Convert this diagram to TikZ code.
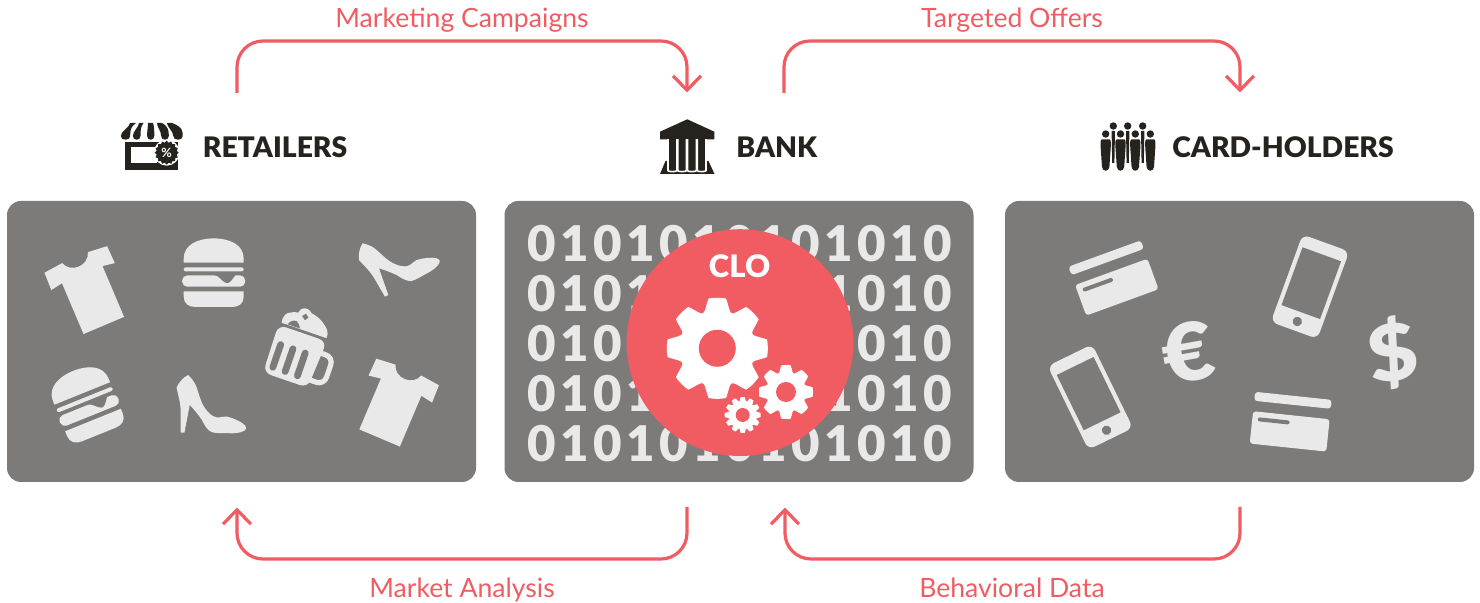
\documentclass[tikz,border=0pt]{standalone}
\usepackage{fontspec}
\setmainfont{Lato}
\newfontfamily\blackfont{Lato Black}
\newfontfamily\bitfont[Numbers=Monospaced,LetterSpace=9]{Lato Black}
\usepackage{tikz}
\usetikzlibrary{arrows.meta,shapes.geometric}

\definecolor{panelgray}{HTML}{7C7B79}
\definecolor{iconlight}{HTML}{E9E9E9}
\definecolor{inkdark}{HTML}{26231F}
\definecolor{clored}{HTML}{F15C63}

\newcommand{\gearwheel}[6]{%
	\begin{scope}[shift={(#1,#2)}]
		\fill[white] plot[domain=0:360,samples=289] (\x:{#4+(#3-#4)*min(1,1.7*(0.5+0.5*cos(#6*\x)))}) -- cycle;
		\fill[clored] (0,0) circle (#5);
	\end{scope}
}

\tikzset{
	panel/.style={fill=panelgray,rounded corners=7pt,minimum width=234.5pt,minimum height=140.5pt,inner sep=0pt},
	flow/.style={draw=clored,line width=1.6pt,rounded corners=13pt,-{Straight Barb[length=7.2pt,width=14pt]}},
	flowlabel/.style={text=clored,font=\fontsize{13.3}{15}\selectfont,anchor=base},
	title/.style={text=inkdark,font=\blackfont\fontsize{14.15}{16}\selectfont,anchor=base west,inner sep=0pt},
	bits/.style={text=iconlight,font=\bitfont\fontsize{24.6}{28}\selectfont,inner sep=0pt,anchor=base},
	money/.style={text=iconlight,font=\blackfont\fontsize{40}{42}\selectfont,inner sep=0pt},
	pics/tshirt/.style={code={
		\fill[iconlight] (-22,40.7) -- (22,40.7) -- (22,-14.5) -- (34.5,-12.4) -- (34,-31) -- (14,-33)
			.. controls (10,-20) and (-10,-20) .. (-14,-33) -- (-34,-31) -- (-34.5,-12.4) -- (-22,-14.5) -- cycle;
	}},
	pics/burger/.style={code={
		\fill[iconlight] (-30,-10) -- (-30,-14) .. controls (-30,-28) and (-16,-34.3) .. (0,-34.3)
			.. controls (16,-34.3) and (30,-28) .. (30,-14) -- (30,-10) -- cycle;
		\fill[iconlight,rounded corners=1pt] (-30,-5.3) rectangle (30,-1.3);
		\fill[iconlight,rounded corners=2.5pt] (-31.5,2.7) rectangle (31.5,14);
		\fill[panelgray] (0,2) .. controls (6,2.8) and (9,10) .. (13,10.5) .. controls (16,11) and (19,6) .. (22,2) -- cycle;
		\fill[iconlight] (-30,18.7) -- (30,18.7) -- (30,24) .. controls (30,31) and (25,34.3) .. (18,34.3)
			-- (-18,34.3) .. controls (-25,34.3) and (-30,31) .. (-30,24) -- cycle;
	}},
	pics/heel/.style={code={
		\fill[iconlight] (-35.7,-26.7) .. controls (-28,-25) and (-24,-22) .. (-21.7,-20) .. controls (-14,-13) and (-10,-9) .. (-5,-6.7)
			.. controls (2,-3.5) and (6,-3) .. (10,-4.3) .. controls (14,-5.5) and (15,-9) .. (18.3,-10)
			.. controls (25,-12) and (33,-13) .. (38.3,-11.7) .. controls (42,-10.5) and (42,-8) .. (41,-6.7)
			.. controls (38,-2) and (34,0) .. (31.7,1.7) .. controls (25,5) and (18,10) .. (13.3,11)
			.. controls (8,11.5) and (3,8) .. (-1.7,5) .. controls (-8,2) and (-14,0) .. (-19.3,-1.7)
			-- (-10,25) -- (-13.3,26.7) -- (-25,6.7) .. controls (-30,-1) and (-36,-6) .. (-39.3,-10)
			.. controls (-40,-15) and (-39,-22) .. (-35.7,-26.7) -- cycle;
	}},
	pics/beermug/.style={code={
		\draw[iconlight,line width=2.6pt,rounded corners=4pt] (20,-8) -- (36,-8) -- (36,21) -- (19,21);
		\fill[iconlight,rounded corners=4pt] (-26.6,-21) -- (24.6,-21) -- (21.5,29) -- (-25.5,29) -- cycle;
		\fill[iconlight] (-24.1,-24) .. controls (-26,-31) and (-22,-36) .. (-19.6,-36.2)
			.. controls (-17,-38) and (-14,-39) .. (-11.7,-38.9) .. controls (-11,-43) and (-9,-45.3) .. (-6.8,-45.3)
			.. controls (-3,-46) and (0,-44) .. (1.2,-42.7) .. controls (6,-42) and (12,-40) .. (15.4,-37)
			.. controls (20,-34) and (24,-30) .. (23.3,-24) -- cycle;
		\fill[panelgray] (-18,-24.5) .. controls (-17,-28) and (-14,-30.5) .. (-10.5,-30.5) .. controls (-8,-29) and (-6,-27) .. (-5,-24.5) -- cycle;
		\fill[panelgray] (-7,-37) -- (-4,-40.5) -- (-0.5,-37.5) -- (-3,-34) -- cycle;
		\draw[panelgray,line width=0.8pt] (-22,-22.5) -- (18,-22.5);
		\draw[panelgray,line width=3.4pt,line cap=round] (-18,-3) -- (-18,21);
		\draw[panelgray,line width=3.4pt,line cap=round] (-5,-3) -- (-5,21);
		\draw[panelgray,line width=3.4pt,line cap=round] (8,-3) -- (8,21);
	}},
	pics/bankcard/.style={code={
		\fill[iconlight,rounded corners=1.5pt] (-38.5,-17) -- (-38.5,-26) -- (38.5,-26) -- (38.5,-17) -- cycle;
		\fill[iconlight,rounded corners=1.5pt] (-38.5,-6.5) -- (38.5,-6.5) -- (38.5,26) -- (-38.5,26) -- cycle;
		\draw[panelgray,line width=2pt,line cap=round] (-31,1) -- (-3,1);
	}},
	pics/phone/.style={code={
		\fill[iconlight,rounded corners=3.5pt] (-24.8,-46.5) rectangle (24.8,46.5);
		\fill[panelgray] (-20.5,-34.5) rectangle (20.5,27);
		\fill[panelgray] (0,37) circle (4.7);
	}},
}

\begin{document}
\begin{tikzpicture}[x=0.5pt,y=-0.5pt]
	\useasboundingbox (0,0) rectangle (1480,603);

	\node[panel] (retailpanel) at (241.5,341.5) {};
	\node[panel] (bankpanel) at (739,341.5) {};
	\node[panel] (cardpanel) at (1239.5,341.5) {};

	\pic[rotate=23] (shirtleft) at (87.9,288) {tshirt};
	\pic[rotate=-23] (shirtright) at (395.5,400.5) {tshirt};
	\pic (burgertop) at (213.7,272.7) {burger};
	\pic[rotate=22] (burgerlow) at (86,402.7) {burger};
	\pic (heeltop) at (398.3,270) {heel};
	\pic[rotate=-30] (heellow) at (205.6,416) {heel};
	\pic[rotate=-19] (mug) at (296.7,353.3) {beermug};

	\pic[rotate=20] (cardone) at (1113.5,278) {bankcard};
	\pic[rotate=-6] (cardtwo) at (1290.7,421.7) {bankcard};
	\pic[rotate=-20] (phoneone) at (1310,286.7) {phone};
	\pic[rotate=26] (phonetwo) at (1090.3,397) {phone};
	\node[money,rotate=10,xscale=1.12] (euro) at (1188.5,352) {€};
	\node[money,rotate=9,xscale=1.1,font=\blackfont\fontsize{39}{42}\selectfont] (dollar) at (1393,353) {\$};

	\foreach \r/\rowy in {1/262,2/312,3/362,4/412,5/462}
		\node[bits] (bits\r) at (740,\rowy) {0101010101010};

	\node[circle,fill=clored,minimum size=113.4pt,inner sep=0pt] (clo) at (740,342.6) {};
	\gearwheel{717.3}{348.3}{50.5}{38}{18.5}{8}
	\gearwheel{786}{392}{27}{20}{10}{8}
	\gearwheel{742.7}{415}{18}{14}{7}{12}
	\node[text=white,font=\blackfont\fontsize{15.5}{17}\selectfont,inner sep=0pt,anchor=base] (clolabel) at (739.6,278) {CLO};

	\fill[inkdark] (125,142) rectangle (178,170);
	\fill[white] (130.7,146.7) rectangle (156.7,162.7);
	\foreach \xa/\xb/\xc/\rad in {130/136/125.5/4.7,139/143.5/136.7/3.8,148/153/150.7/3.6,157/162/165/3.8,167/172/178/4.7}
		\fill[inkdark] (\xa,123) -- (\xb,123) .. controls (\xc+\rad,127) and (\xc+\rad,131) .. (\xc+\rad,136)
			.. controls (\xc+\rad,141) and (\xc-\rad,141) .. (\xc-\rad,136) .. controls (\xc-\rad,131) and (\xa,127) .. cycle;
	\fill[white] (166.7,152.7) circle (13);
	\node[star,star points=16,star point ratio=1.18,fill=inkdark,minimum size=12pt,inner sep=0pt,text=white,font=\bfseries\fontsize{6.4}{7}\selectfont] (badge) at (166.7,152.7) {\%};
	\node[title] (retailers) at (202.5,157.5) {RETAILERS};

	\fill[inkdark] (687.3,119.3) -- (714.3,131.7) -- (714.3,139.3) -- (660,139.3) -- (660,131.7) -- cycle;
	\fill[inkdark] (665.5,161) -- (708.5,161) -- (714.5,174) -- (660,174) -- cycle;
	\foreach \cx in {672.4,682.1,691.9,701.6}
		\draw[white,fill=inkdark,line width=0.8pt,rounded corners=1.8pt] (\cx-4.4,138) -- (\cx-4.4,167) .. controls (\cx-4.4,172) and (\cx+4.4,172) .. (\cx+4.4,167) -- (\cx+4.4,138);
	\fill[inkdark] (660,131.7) rectangle (714.3,139.3);
	\node[title] (bank) at (736,157.5) {BANK};

	\foreach \hx in {1113.3,1127.7,1142.7} {
		\fill[inkdark] (\hx,126) circle (3.7);
		\fill[inkdark] (\hx-1.7,131) -- (\hx+1.7,131) -- (\hx+1.1,163) -- (\hx-1.1,163) -- cycle;
	}
	\foreach \hx in {1105.7,1120.5,1135.3,1150.3} {
		\fill[inkdark] (\hx,134) circle (3.7);
		\fill[inkdark] (\hx-4,139.5) -- (\hx+4,139.5) .. controls (\hx+5.3,140) and (\hx+5.3,143) .. (\hx+5,148)
			-- (\hx+3.7,167) .. controls (\hx+3,172) and (\hx-3,172) .. (\hx-3.7,167) -- (\hx-5,148) .. controls (\hx-5.3,143) and (\hx-5.3,140) .. (\hx-4,139.5) -- cycle;
	}
	\node[title] (holders) at (1172,157.5) {CARD-HOLDERS};

	\coordinate (mcfrom) at (237,93);
	\coordinate (mctop) at (462,41);
	\coordinate (mcto) at (687,92.5);
	\coordinate (tofrom) at (784,93);
	\coordinate (totop) at (1012,41);
	\coordinate (toto) at (1240,92.5);
	\coordinate (mafrom) at (687,507);
	\coordinate (malow) at (462,559);
	\coordinate (mato) at (237,507.5);
	\coordinate (bdfrom) at (1240,507);
	\coordinate (bdlow) at (1012,559);
	\coordinate (bdto) at (785,507.5);

	\draw[flow] (mcfrom) |- (mctop) -| (mcto);
	\draw[flow] (tofrom) |- (totop) -| (toto);
	\draw[flow] (mafrom) |- (malow) -| (mato);
	\draw[flow] (bdfrom) |- (bdlow) -| (bdto);

	\node[flowlabel] (mclabel) at (462,27.5) {Marketing Campaigns};
	\node[flowlabel] (tolabel) at (1012,27.5) {Targeted Offers};
	\node[flowlabel] (malabel) at (462,598) {Market Analysis};
	\node[flowlabel] (bdlabel) at (1012,598) {Behavioral Data};
\end{tikzpicture}
\end{document}
